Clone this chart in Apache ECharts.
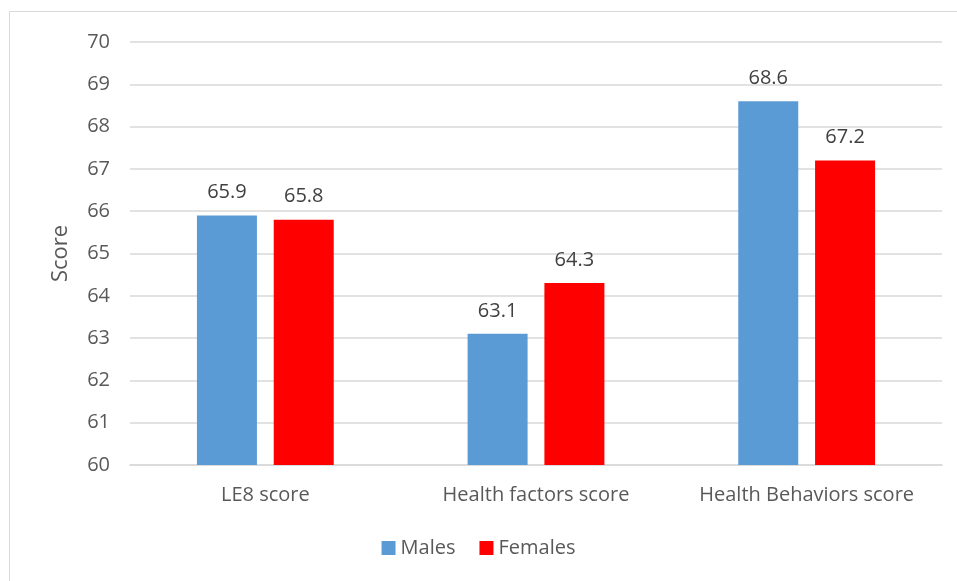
<!DOCTYPE html>
<html>
<head>
<meta charset="utf-8">
<script src="https://cdn.jsdelivr.net/npm/echarts@6/dist/echarts.min.js"></script>
<style>
  html, body { margin: 0; padding: 0; background: #fff; }
  #chart { width: 957px; height: 581px; }
</style>
</head>
<body>
<div id="chart"></div>
<script>
const categories = ['LE8 score', 'Health factors score', 'Health Behaviors score'];
const males = [65.9, 63.1, 68.6];
const females = [65.8, 64.3, 67.2];
const yTicks = { min: 60, max: 70, interval: 1 };

const textColor = '#595959';
const fontFamily = '"Open Sans", "Noto Sans", sans-serif';

const chart = echarts.init(document.getElementById('chart'), null, { renderer: 'canvas' });

const labelStyle = {
  show: true,
  position: 'top',
  distance: 13,
  color: '#404040',
  fontSize: 20,
  fontFamily: fontFamily,
  formatter: p => p.value.toFixed(1)
};

chart.setOption({
  backgroundColor: '#ffffff',
  animation: false,
  graphic: [{
    type: 'rect',
    shape: { x: 9.5, y: 11.5, width: 960, height: 600 },
    style: { fill: 'none', stroke: '#d9d9d9', lineWidth: 1 }
  }],
  grid: { left: 130, right: 15, top: 42, bottom: 116 },
  legend: {
    bottom: 18,
    left: 'center',
    itemWidth: 14,
    itemHeight: 14,
    itemGap: 24,
    icon: 'rect',
    textStyle: { color: textColor, fontSize: 20, fontFamily: fontFamily },
    data: ['Males', 'Females']
  },
  xAxis: {
    type: 'category',
    data: categories,
    axisLine: { lineStyle: { color: '#d9d9d9', width: 1.5 } },
    axisTick: { show: false },
    axisLabel: { color: textColor, fontSize: 20, fontFamily: fontFamily, margin: 20, interval: 0, hideOverlap: false }
  },
  yAxis: {
    type: 'value',
    min: yTicks.min,
    max: yTicks.max,
    interval: yTicks.interval,
    name: 'Score',
    nameLocation: 'middle',
    nameGap: 58,
    nameTextStyle: { color: textColor, fontSize: 22, fontFamily: fontFamily },
    axisLine: { show: false },
    axisTick: { show: false },
    axisLabel: { color: textColor, fontSize: 20, fontFamily: fontFamily, margin: 20 },
    splitLine: { lineStyle: { color: '#d9d9d9', width: 1.5 } }
  },
  series: [
    {
      name: 'Males',
      type: 'bar',
      data: males,
      barWidth: 60,
      barGap: '28%',
      itemStyle: { color: '#5b9bd5' },
      label: labelStyle
    },
    {
      name: 'Females',
      type: 'bar',
      data: females,
      barWidth: 60,
      itemStyle: { color: '#ff0000' },
      label: labelStyle
    }
  ]
});
</script>
</body>
</html>
